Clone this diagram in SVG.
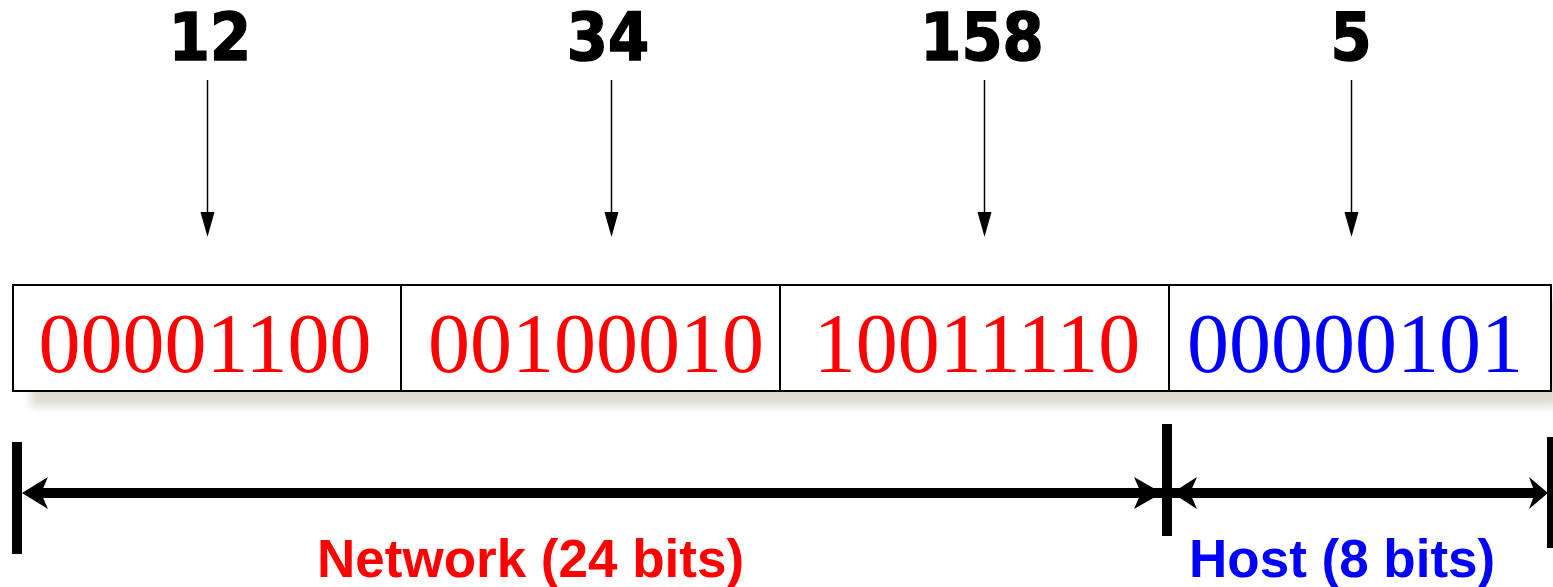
<svg xmlns="http://www.w3.org/2000/svg" width="1553" height="587" viewBox="0 0 1553 587">
<style>
.num{font-family:"DejaVu Sans",Verdana,sans-serif;font-weight:bold;font-size:65px;fill:#000;stroke:#000;stroke-width:1.6;text-anchor:middle}
.bin{font-family:"Liberation Serif","Times New Roman",serif;font-size:84px;text-anchor:middle}
.lbl{font-family:"Liberation Sans",Arial,sans-serif;font-weight:bold;font-size:53px}
.cell{fill:#fff;stroke:#000;stroke-width:2}
.thin{stroke:#000;stroke-width:1.5;fill:none}
.bar{fill:#000}
</style>
<defs>
<filter id="sh" x="-5%" y="-50%" width="110%" height="200%">
<feGaussianBlur stdDeviation="5"/>
</filter>
</defs>
<g id="shadow">
<rect x="30" y="300" width="1530" height="106" fill="#dedad0" filter="url(#sh)"/>
</g>
<g id="top-labels">
<text class="num" transform="translate(210,60) scale(0.91,1)">12</text>
<text class="num" transform="translate(608,60) scale(0.91,1)">34</text>
<text class="num" transform="translate(982,60) scale(0.91,1)">158</text>
<text class="num" transform="translate(1351,60) scale(0.91,1)">5</text>
</g>
<g id="connectors">
<line class="thin" x1="207.5" y1="80" x2="207.5" y2="214"/>
<polygon class="bar" points="200.5,212 214.5,212 207.5,237"/>
<line class="thin" x1="611.5" y1="80" x2="611.5" y2="214"/>
<polygon class="bar" points="604.5,212 618.5,212 611.5,237"/>
<line class="thin" x1="984.5" y1="80" x2="984.5" y2="214"/>
<polygon class="bar" points="977.5,212 991.5,212 984.5,237"/>
<line class="thin" x1="1351.5" y1="80" x2="1351.5" y2="214"/>
<polygon class="bar" points="1344.5,212 1358.5,212 1351.5,237"/>
</g>
<g id="cell1">
<rect class="cell" x="13" y="285" width="388" height="106"/>
<text class="bin" x="205" y="372" fill="#ff0000">00001100</text>
</g>
<g id="cell2">
<rect class="cell" x="401" y="285" width="379" height="106"/>
<text class="bin" x="596" y="372" fill="#ff0000">00100010</text>
</g>
<g id="cell3">
<rect class="cell" x="780" y="285" width="389" height="106"/>
<text class="bin" x="977" y="372" fill="#ff0000">10011110</text>
</g>
<g id="cell4">
<rect class="cell" x="1169" y="285" width="382" height="106"/>
<text class="bin" x="1355" y="372" fill="#0000ff">00000101</text>
</g>
<g id="dimension">
<rect class="bar" x="12" y="442" width="10" height="112"/>
<rect class="bar" x="1162" y="424" width="10" height="112"/>
<rect class="bar" x="1547" y="437" width="10" height="111"/>
<rect class="bar" x="30" y="488" width="1510" height="10"/>
<polygon class="bar" points="22,493 48,477 41,493 48,509"/>
<polygon class="bar" points="1162,493 1134,477 1141,493 1134,509"/>
<polygon class="bar" points="1172,493 1197,477 1190,493 1197,509"/>
<polygon class="bar" points="1548,493 1529,477 1535,493 1529,509"/>
</g>
<g id="bottom-labels">
<text class="lbl" x="317" y="577" fill="#ff0000">Network (24 bits)</text>
<text class="lbl" x="1189" y="577" fill="#0000ff">Host (8 bits)</text>
</g>
</svg>
